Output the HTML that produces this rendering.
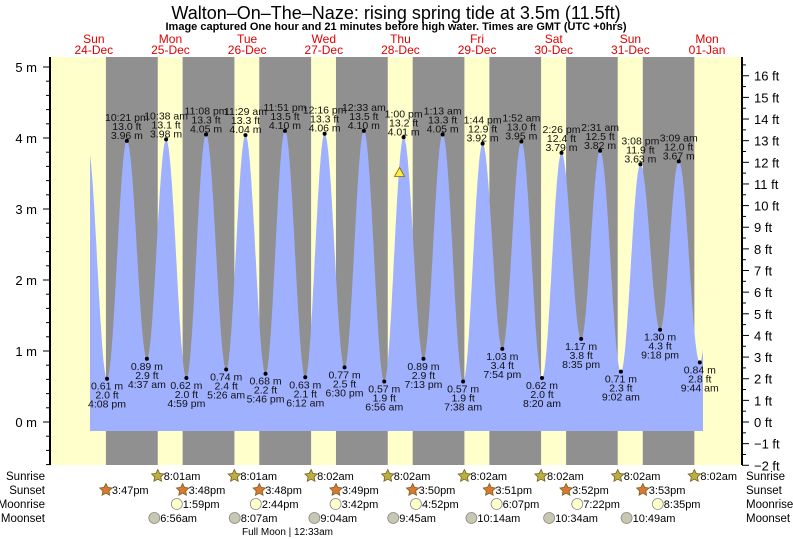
<!DOCTYPE html>
<html><head><meta charset="utf-8"><style>
body{margin:0;background:#fff;}
svg{display:block;font-family:"Liberation Sans",Arial,sans-serif;}
</style></head><body>
<svg id="c" width="793" height="539" viewBox="0 0 793 539">
<text x="396" y="19" text-anchor="middle" font-size="18">Walton–On–The–Naze: rising  spring tide at 3.5m (11.5ft)</text>
<text x="396" y="30" text-anchor="middle" font-size="11" font-weight="bold">Image captured One hour and 21 minutes before high water. Times are GMT (UTC +0hrs)</text>
<g id="bg"></g><g id="tide"></g><g id="axes"></g><g id="lbl"></g><g id="bottom"></g>
</svg>
<script>
const dayNames=["Sun","Mon","Tue","Wed","Thu","Fri","Sat","Sun","Mon"];
const dayDates=["24-Dec","25-Dec","26-Dec","27-Dec","28-Dec","29-Dec","30-Dec","31-Dec","01-Jan"];
const tideDays=[0,0,0,1,1,1,1,2,2,2,2,3,3,3,4,4,4,4,5,5,5,5,6,6,6,6,7,7,7,7,8,8,8];
const tideTimes=["10:00 am","4:08 pm","10:21 pm","4:37 am","10:38 am","4:59 pm","11:08 pm","5:26 am","11:29 am","5:46 pm","11:51 pm","6:12 am","12:16 pm","6:30 pm","12:33 am","6:56 am","1:00 pm","7:13 pm","1:13 am","7:38 am","1:44 pm","7:54 pm","1:52 am","8:20 am","2:26 pm","8:35 pm","2:31 am","9:02 am","3:08 pm","9:18 pm","3:09 am","9:44 am","3:50 pm"];
const tideHeights=[3.9,0.61,3.96,0.89,3.98,0.62,4.05,0.74,4.04,0.68,4.10,0.63,4.06,0.77,4.10,0.57,4.01,0.89,4.05,0.57,3.92,1.03,3.95,0.62,3.79,1.17,3.82,0.71,3.63,1.30,3.67,0.84,3.6];
const tideShown=[0,1,1,1,1,1,1,1,1,1,1,1,1,1,1,1,1,1,1,1,1,1,1,1,1,1,1,1,1,1,1,1,0];
const sunriseTimes=["","8:01am","8:01am","8:02am","8:02am","8:02am","8:02am","8:02am","8:02am"];
const sunsetTimes=["3:47pm","3:48pm","3:48pm","3:49pm","3:50pm","3:51pm","3:52pm","3:53pm",""];
const moonriseTimes=["","1:59pm","2:44pm","3:42pm","4:52pm","6:07pm","7:22pm","8:35pm",""];
const moonsetTimes=["","6:56am","8:07am","9:04am","9:45am","10:14am","10:34am","10:49am",""];
const mTicks=[0,1,2,3,4,5];
const ftTicks=[-2,-1,0,1,2,3,4,5,6,7,8,9,10,11,12,13,14,15,16];
const nowDay=4, nowTime="11:43 am", nowHeight=3.5;

const NS="http://www.w3.org/2000/svg";
const L=50,R=742,T=57,B=465,X0=55.5,PXD=76.65,Y0=422,PXM=71;
function hrs(d,t){const m=t.match(/(\d+):(\d+)\s*(am|pm)/);let h=+m[1]%12;if(m[3]=="pm")h+=12;return d*24+h+(+m[2])/60;}
const xs=h=>X0+h/24*PXD, ym=v=>Y0-v*PXM, yft=f=>Y0-f*0.3048*PXM;
function el(p,tag,a,txt){const e=document.createElementNS(NS,tag);for(const k in a)e.setAttribute(k,a[k]);if(txt!==undefined)e.textContent=txt;document.getElementById(p).appendChild(e);return e;}

let r=el('bg','rect',{x:L,y:T,width:R-L,height:B-T,fill:'#ffffcc'});

for(let d=0;d<8;d++){
 const s=xs(hrs(d,sunsetTimes[d].replace(/(am|pm)/,' $1'))), e=xs(hrs(d+1,sunriseTimes[d+1].replace(/(am|pm)/,' $1')));
 const n=el('bg','rect',{x:s,y:T,width:e-s,height:B-T,fill:'#909090'});
 
}
for(let d=0;d<9;d++){
 const cx=xs(d*24+12);
 const a=el('bg','text',{x:cx,y:43,'text-anchor':'middle','font-size':12,fill:'#e00000'},dayNames[d]);
 
 const b=el('bg','text',{x:cx,y:54,'text-anchor':'middle','font-size':12,fill:'#e00000'},dayDates[d]);
 
}
const H=tideTimes.map((t,i)=>hrs(tideDays[i],t));
const hStart=(90-X0)/PXD*24, hEnd=(703-X0)/PXD*24;
function val(h){for(let i=0;i<H.length-1;i++){if(h>=H[i]&&h<=H[i+1]){const f=(h-H[i])/(H[i+1]-H[i]);return tideHeights[i]+(tideHeights[i+1]-tideHeights[i])*(1-Math.cos(Math.PI*f))/2;}}return tideHeights[0];}
let pts=[[xs(hStart),431]];
for(let h=hStart;h<=hEnd;h+=0.1)pts.push([xs(h),ym(val(h))]);
pts.push([xs(hEnd),ym(val(hEnd))]);pts.push([xs(hEnd),431]);
const poly=el('tide','polygon',{points:pts.map(p=>p[0].toFixed(1)+','+p[1].toFixed(1)).join(' '),fill:'#9fb0ff'});

H.forEach((h,i)=>{
 if(!tideShown[i])return;
 const x=xs(h),y=ym(tideHeights[i]);const hi=i%2==0;
 const dot=el('lbl','circle',{cx:x,cy:y,r:2,fill:'#000'});
 
 const m=tideHeights[i].toFixed(2)+' m', ft=(tideHeights[i]/0.3048).toFixed(1)+' ft';
 const lines=hi?[tideTimes[i],ft,m]:[m,ft,tideTimes[i]];
 const off=hi?[-20,-11,-2]:[11,20,29];
 lines.forEach((s,k)=>{const t=el('lbl','text',{x:x,y:y+off[k],'text-anchor':'middle','font-size':10.5,fill:'#111'},s);
 });
});
const nx=xs(hrs(nowDay,nowTime)),ny=ym(nowHeight);
const tri=el('lbl','polygon',{points:`${nx},${ny-6} ${nx-5},${ny+3} ${nx+5},${ny+3}`,fill:'#ffee44',stroke:'#886600','stroke-width':0.8});

let ax=el('axes','line',{x1:L,y1:T,x2:L,y2:B,stroke:'#000','stroke-width':2});
ax=el('axes','line',{x1:R,y1:T,x2:R,y2:B,stroke:'#000','stroke-width':2});
for(let v=-0.6;v<=5.2;v+=0.2){const y=ym(v);if(y<T||y>B)continue;const maj=Math.abs(v-Math.round(v))<0.01;
 el('axes','line',{x1:L-(maj?7:4),y1:y,x2:L,y2:y,stroke:'#000'});}
mTicks.forEach(v=>{const t=el('axes','text',{x:L-13,y:ym(v)+5,'text-anchor':'end','font-size':13},v+' m');});
for(let f=-2;f<=16.5;f+=0.5){const y=yft(f);if(y<T||y>B+1)continue;const maj=f%1==0;el('axes','line',{x1:R,y1:y,x2:R+(maj?7:4),y2:y,stroke:'#000'});}
ftTicks.forEach(f=>{const t=el('axes','text',{x:R+12,y:yft(f)+5,'font-size':13},(f<0?'−'+(-f):f)+' ft');});
const rows=[['Sunrise',480],['Sunset',494],['Moonrise',508],['Moonset',522]];
rows.forEach(([n,y])=>{let a=el('bottom','text',{x:45,y:y,'text-anchor':'end','font-size':11.5},n);
 a=el('bottom','text',{x:746,y:y,'font-size':11.5},n);});
function star(x,y,fill){const p=[];for(let k=0;k<10;k++){const a=-Math.PI/2+k*Math.PI/5,rr=k%2?3.2:6.5;p.push((x+rr*Math.cos(a)).toFixed(1)+','+(y+rr*Math.sin(a)).toFixed(1));}
 return el('bottom','polygon',{points:p.join(' '),fill:fill,stroke:'#7a5a20','stroke-width':0.8});}
function row(arr,y,kind){arr.forEach((t,d)=>{if(!t)return;const x=xs(hrs(d,t.replace(/(am|pm)/,' $1')));let ic;
 if(kind=='sr')ic=star(x,y-4,'#b8b040');else if(kind=='ss')ic=star(x,y-4,'#d87a30');
 else ic=el('bottom','circle',{cx:x,cy:y-4,r:5.5,fill:kind=='mr'?'#ffffcc':'#c8c8b0',stroke:'#888','stroke-width':0.8});
 
 const tx=el('bottom','text',{x:x+6,y:y,'font-size':11},t);});}
row(sunriseTimes,480,'sr');row(sunsetTimes,494,'ss');row(moonriseTimes,508,'mr');row(moonsetTimes,522,'ms');
const fm=el('bottom','text',{x:242,y:535,'font-size':10},'Full Moon | 12:33am');
</script>
</body></html>
